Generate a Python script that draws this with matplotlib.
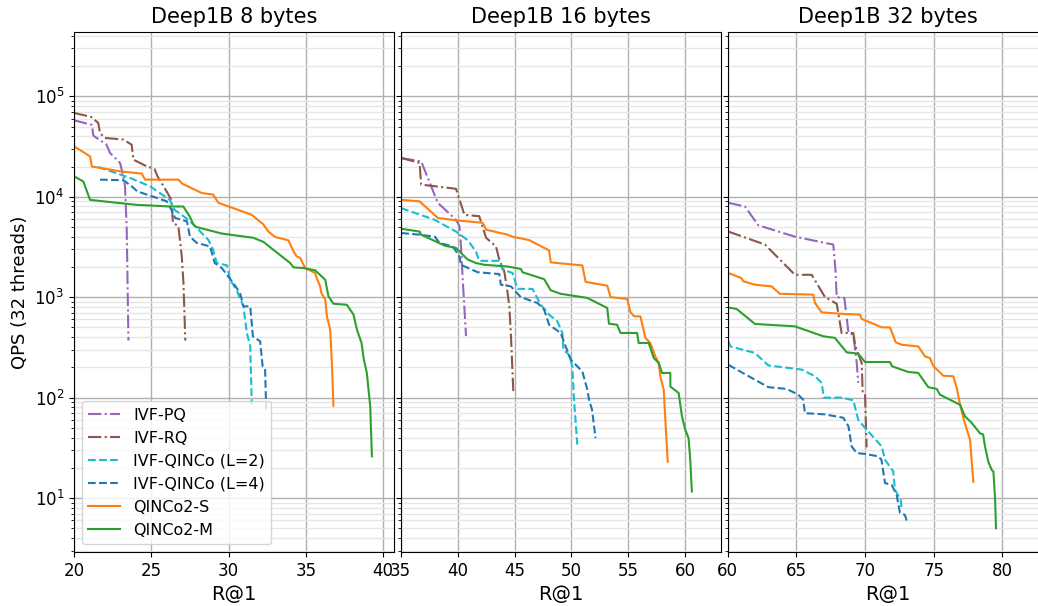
import matplotlib
matplotlib.use("Agg")
import matplotlib.pyplot as plt

titles = ["Deep1B 8 bytes", "Deep1B 16 bytes", "Deep1B 32 bytes"]
methods = ["IVF-PQ", "IVF-RQ", "IVF-QINCo (L=2)", "IVF-QINCo (L=4)", "QINCo2-S", "QINCo2-M"]
colors = ["#9467bd", "#8c564b", "#17becf", "#1f77b4", "#ff7f0e", "#2ca02c"]
styles = ["-.", "-.", "--", "--", "-", "-"]
xlims = [(20, 40.7), (35, 63.1), (60, 83.3)]

# ---- Deep1B 8 bytes ----
pq8_x = [20.0, 21.15, 21.25, 22.1, 22.33, 22.98, 23.19, 23.3, 23.41, 23.52]
pq8_y = [57700, 52000, 40600, 33000, 27300, 21700, 16000, 12700, 4700, 370]
rq8_x = [20.0, 21.1, 21.57, 21.68, 22.0, 23.19, 23.73, 23.84, 24.7, 25.2, 25.4, 26.05, 26.3, 26.4, 26.75, 26.97, 27.08, 27.2]
rq8_y = [68300, 62400, 54300, 43100, 38500, 37100, 33000, 23400, 20100, 19000, 16000, 10900, 9300, 5500, 5100, 2550, 1380, 370]
q2_8_x = [21.57, 23.62, 24.92, 26.2, 26.5, 27.4, 27.94, 28.7, 29.0, 29.23, 29.9, 30.1, 30.5, 30.96, 31.18, 31.4, 31.5]
q2_8_y = [19800, 15400, 12700, 9300, 7400, 5900, 4900, 3700, 2970, 2190, 2070, 1490, 1190, 810, 440, 323, 85]
q4_8_x = [21.68, 23.19, 23.73, 24.1, 25.13, 26.0, 26.3, 26.54, 27.3, 27.5, 27.94, 28.8, 29.1, 29.56, 30.3, 30.74, 30.96, 31.4, 31.57, 32.04, 32.2, 32.36, 32.43]
q4_8_y = [14800, 14600, 12700, 11300, 10000, 9000, 7400, 6150, 5700, 4000, 3470, 3200, 2190, 1950, 1380, 1100, 810, 810, 408, 363, 205, 195, 76]
s8_x = [20.0, 21.04, 21.15, 22.98, 24.38, 24.6, 26.75, 27.0, 28.26, 29.0, 29.34, 30.3, 31.5, 32.25, 32.57, 33.0, 33.87, 34.2, 34.4, 34.63, 34.95, 35.6, 35.7, 35.92, 36.0, 36.25, 36.36, 36.57, 36.68, 36.78]
s8_y = [31800, 25200, 20000, 17900, 17000, 14800, 14800, 13500, 10900, 10500, 8700, 7700, 6600, 5300, 4500, 3980, 3680, 2860, 2550, 2460, 1950, 1740, 1550, 1280, 1100, 950, 645, 474, 221, 83]
m8_x = [20.0, 20.6, 21.04, 24.06, 26.2, 27.07, 27.5, 27.72, 27.9, 29.56, 31.6, 32.25, 33.98, 34.2, 34.84, 35.6, 36.25, 36.46, 36.78, 37.65, 38.08, 38.3, 38.6, 38.73, 38.94, 39.16, 39.27]
m8_y = [16000, 14200, 9300, 8300, 8000, 8000, 6300, 5300, 5000, 4300, 3900, 3550, 2190, 1980, 1950, 1850, 1490, 1020, 860, 840, 670, 474, 350, 248, 176, 82, 26]

# ---- Deep1B 16 bytes ----
pq16_x = [35.05, 36.8, 37.68, 38.26, 39.86, 40.16, 40.3, 40.45, 40.74]
pq16_y = [24300, 22500, 12700, 8700, 5900, 5100, 3200, 1490, 410]
rq16_x = [35.05, 36.66, 36.8, 39.86, 40.6, 41.9, 42.5, 43.37, 43.66, 44.1, 44.39, 44.54, 44.68, 44.9]
rq16_y = [24300, 21700, 13200, 12000, 6600, 6400, 3900, 3200, 2370, 1800, 1100, 810, 423, 110]
q2_16_x = [35.05, 37.97, 39.86, 40.88, 41.6, 41.9, 43.66, 43.95, 44.82, 45.26, 46.57, 47.3, 48.03, 48.76, 49.2, 49.29, 49.78, 50.07, 50.22, 50.51]
q2_16_y = [7700, 5900, 4500, 3700, 2860, 2300, 2300, 1880, 1740, 1210, 1210, 840, 670, 574, 440, 300, 267, 205, 97, 34]
q4_16_x = [35.05, 36.66, 38.0, 38.41, 39.58, 40.16, 40.3, 41.77, 43.66, 43.8, 44.68, 45.55, 47.01, 47.6, 48.03, 49.05, 49.49, 49.93, 50.95, 51.39, 51.54, 51.8, 52.11]
q4_16_y = [4350, 4190, 4000, 3470, 3200, 2550, 2100, 1770, 1700, 1330, 1280, 1000, 875, 750, 532, 440, 323, 239, 182, 120, 95, 76, 39.5]
s16_x = [35.05, 36.66, 38.26, 40.0, 42.2, 42.5, 44.39, 44.8, 46.28, 48.03, 48.18, 50.95, 51.24, 53.14, 53.43, 54.89, 55.18, 55.5, 56.05, 56.49, 56.92, 57.36, 57.66, 57.8, 58.1, 58.24, 58.45]
s16_y = [9300, 9000, 6150, 5800, 5500, 4700, 4190, 4000, 3700, 2920, 2220, 2070, 1420, 1300, 1000, 960, 706, 645, 645, 393, 350, 257, 221, 163, 120, 60, 23]
m16_x = [35.05, 36.66, 36.8, 38.85, 39.86, 40.88, 41.6, 42.35, 44.39, 45.55, 45.7, 47.6, 48.18, 49.05, 51.39, 53.14, 53.29, 54.0, 54.3, 55.76, 55.9, 56.78, 57.22, 57.66, 57.95, 58.68, 58.68, 59.41, 59.7, 59.99, 60.28, 60.43, 60.57]
m16_y = [4800, 4500, 4190, 3260, 3090, 2370, 2190, 2100, 2020, 1910, 1770, 1510, 1170, 1080, 983, 780, 544, 532, 440, 440, 350, 350, 248, 221, 176, 176, 129, 111, 65, 48, 39.5, 24, 11.6]

# ---- Deep1B 32 bytes ----
pq32_x = [60.05, 61.26, 62.23, 64.9, 67.69, 67.85, 67.94, 68.5, 68.8, 69.15, 69.4, 69.51]
pq32_y = [8700, 8000, 5200, 4000, 3340, 1880, 1000, 980, 440, 423, 221, 140]
rq32_x = [60.05, 62.72, 64.9, 66.12, 67.09, 67.94, 68.3, 69.15, 69.3, 69.76, 69.83, 70.0, 70.12]
rq32_y = [4500, 3340, 1670, 1670, 1000, 860, 440, 440, 323, 221, 115, 111, 32]
q2_32_x = [60.05, 60.2, 61.99, 62.96, 65.39, 66.36, 66.85, 67.0, 68.3, 69.15, 69.51, 70.0, 71.22, 71.46, 72.06, 72.18, 72.6, 72.67]
q2_32_y = [363, 323, 278, 209, 190, 163, 140, 100, 100, 94, 60, 50, 32.6, 24, 18.4, 12.1, 9.6, 7.8]
q4_32_x = [60.05, 61.75, 62.96, 64.3, 65.14, 65.5, 65.63, 67.09, 68.42, 68.8, 69.03, 69.4, 70.0, 70.97, 71.2, 71.46, 71.94, 72.3, 72.55, 72.9, 73.1]
q4_32_y = [212, 157, 127, 122, 107, 95, 70, 68, 63, 51.6, 32.6, 28, 27.5, 26, 24, 14.1, 13.5, 10.8, 7.1, 6.8, 5.6]
s32_x = [60.05, 61.0, 61.14, 61.99, 63.2, 63.8, 66.23, 66.36, 66.85, 68.18, 69.64, 69.76, 71.22, 71.82, 72.24, 72.67, 73.88, 74.37, 74.73, 74.97, 75.7, 76.43, 76.68, 76.92, 77.23, 77.65, 77.77, 77.89]
s32_y = [1740, 1550, 1440, 1330, 1280, 1080, 1060, 875, 706, 684, 670, 607, 501, 500, 355, 336, 323, 257, 248, 207, 165, 163, 125, 85, 58, 38, 23, 14.5]
m32_x = [60.05, 60.66, 61.99, 64.9, 66.96, 67.81, 68.67, 69.51, 70.0, 71.82, 71.97, 73.15, 73.88, 74.61, 75.22, 75.46, 76.68, 76.92, 77.28, 77.77, 78.38, 78.6, 78.74, 78.98, 79.23, 79.35, 79.47, 79.54]
m32_y = [790, 762, 541, 512, 408, 393, 282, 274, 226, 226, 205, 180, 176, 127, 122, 107, 88, 85, 65, 56, 44, 43, 32.6, 23, 19, 18.4, 10, 5.0]

panels = [
    [(pq8_x, pq8_y), (rq8_x, rq8_y), (q2_8_x, q2_8_y), (q4_8_x, q4_8_y), (s8_x, s8_y), (m8_x, m8_y)],
    [(pq16_x, pq16_y), (rq16_x, rq16_y), (q2_16_x, q2_16_y), (q4_16_x, q4_16_y), (s16_x, s16_y), (m16_x, m16_y)],
    [(pq32_x, pq32_y), (rq32_x, rq32_y), (q2_32_x, q2_32_y), (q4_32_x, q4_32_y), (s32_x, s32_y), (m32_x, m32_y)],
]

fig = plt.figure(figsize=(10.38, 6.06), dpi=100)
lefts = [0.0713, 0.386, 0.701]
axes = []
for i in range(3):
    if i == 0:
        ax = fig.add_axes([lefts[i], 0.0891, 0.3083, 0.8586])
    else:
        ax = fig.add_axes([lefts[i], 0.0891, 0.3083, 0.8586], sharey=axes[0])
    axes.append(ax)

for i, ax in enumerate(axes):
    for j, (xs, ys) in enumerate(panels[i]):
        ax.plot(xs, ys, color=colors[j], linestyle=styles[j], linewidth=1.5, label=methods[j])
    ax.set_yscale("log")
    ax.set_ylim(2.9, 4.4e5)
    ax.set_xlim(*xlims[i])
    ax.set_xticks(range(int(xlims[i][0]), int(xlims[i][1]) + 1, 5))
    ax.grid(True, which="major", color="#b0b0b0", linewidth=1.0)
    ax.grid(True, which="minor", axis="y", color="#e6e6e6", linewidth=1.0)
    ax.set_title(titles[i], fontsize=15)
    ax.set_xlabel("R@1", fontsize=14)
    ax.tick_params(labelsize=12)
    if i > 0:
        ax.tick_params(labelleft=False)

axes[0].set_ylabel("QPS (32 threads)", fontsize=13)
axes[0].legend(loc="lower left", fontsize=11.5)

fig.savefig("out.png", dpi=100)
